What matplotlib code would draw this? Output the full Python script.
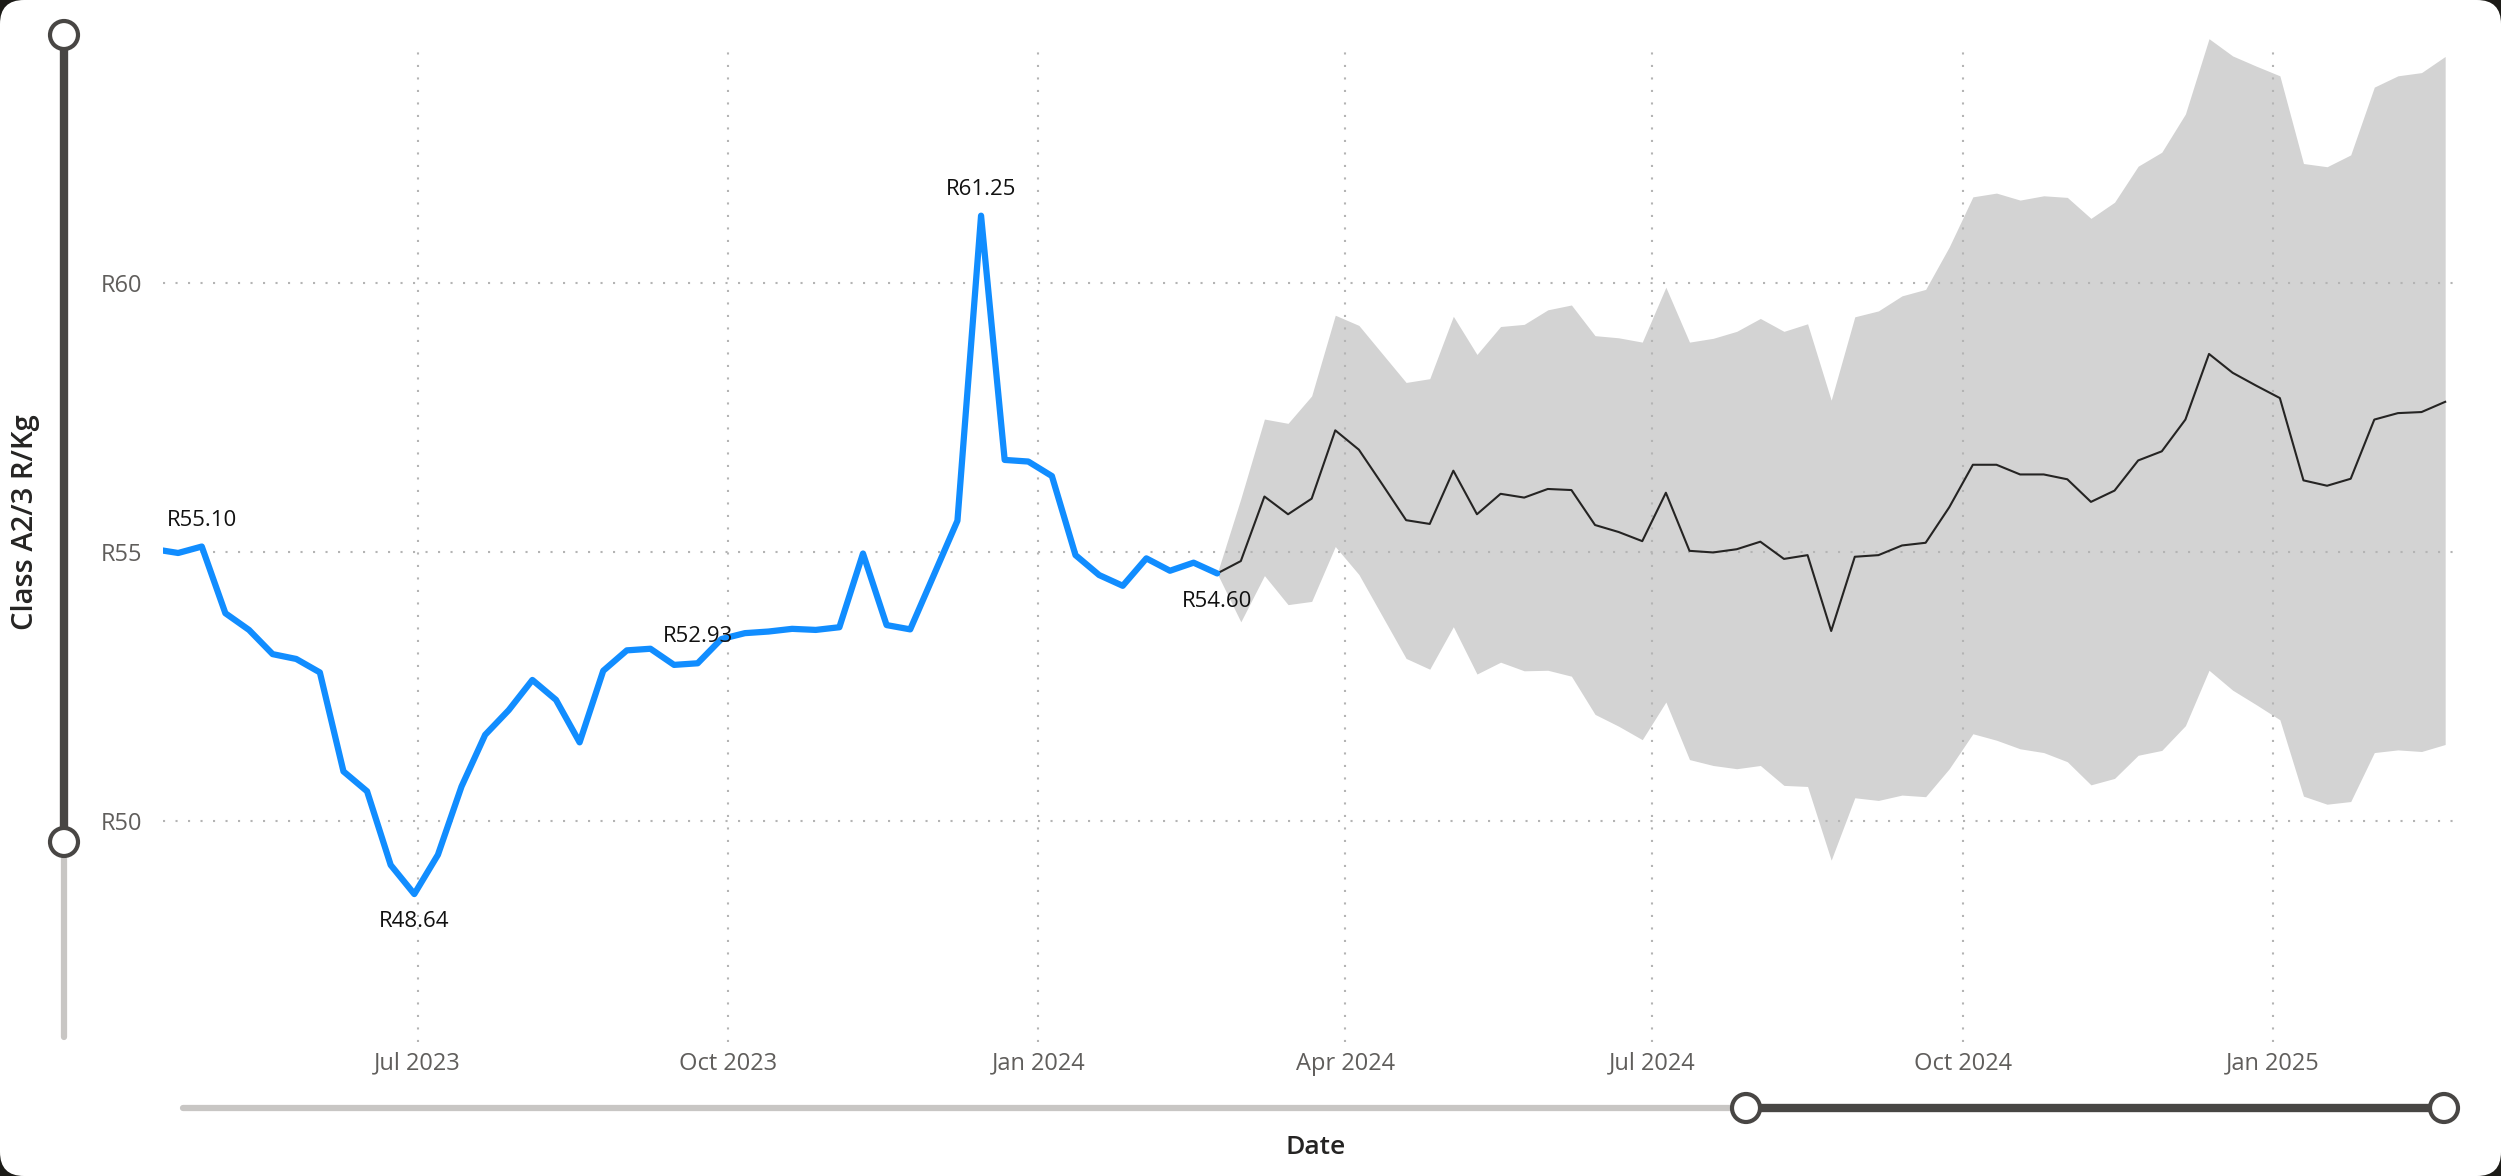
import pandas as pd
import matplotlib
matplotlib.use('Agg')
import matplotlib.pyplot as plt
from matplotlib.patches import FancyBboxPatch, Circle

plt.rcParams['font.family'] = ['Open Sans', 'DejaVu Sans']

# weekly actual prices (R/Kg)
actual_start = '2023-04-14'
actual_values = [55.05, 54.98, 55.10, 53.86, 53.55, 53.10, 53.01, 52.76, 50.92, 50.55,
                 49.18, 48.64, 49.37, 50.64, 51.60, 52.06, 52.62, 52.25, 51.46, 52.79,
                 53.17, 53.20, 52.90, 52.93, 53.38, 53.49, 53.52, 53.57, 53.55, 53.60,
                 54.97, 53.64, 53.56, 54.57, 55.58, 61.25, 56.71, 56.68, 56.41, 54.94,
                 54.57, 54.37, 54.88, 54.65, 54.80, 54.60]
labelled_idx = [2, 11, 23, 35, 45]

# weekly forecast, first value is the last actual point
forecast_start = '2024-02-23'
forecast_mean = [54.60, 54.83, 56.03, 55.70, 55.99, 57.26, 56.90, 56.25, 55.59, 55.52,
                 56.51, 55.70, 56.08, 56.01, 56.17, 56.15, 55.50, 55.37, 55.20, 56.10,
                 55.02, 54.99, 55.05, 55.19, 54.87, 54.94, 53.53, 54.91, 54.94, 55.12,
                 55.17, 55.83, 56.62, 56.62, 56.44, 56.44, 56.35, 55.93, 56.14, 56.70,
                 56.87, 57.46, 58.68, 58.33, 58.09, 57.86, 56.33, 56.23, 56.36, 57.46,
                 57.58, 57.60, 57.79]
forecast_upper = [54.60, 55.99, 57.47, 57.39, 57.90, 59.40, 59.21, 58.68, 58.15, 58.22,
                  59.38, 58.67, 59.19, 59.23, 59.50, 59.59, 59.02, 58.98, 58.90, 59.92,
                  58.90, 58.97, 59.10, 59.34, 59.10, 59.24, 57.82, 59.37, 59.48, 59.76,
                  59.88, 60.67, 61.60, 61.67, 61.54, 61.62, 61.59, 61.20, 61.50, 62.17,
                  62.43, 63.14, 64.54, 64.22, 64.03, 63.85, 62.22, 62.16, 62.38, 63.64,
                  63.85, 63.91, 64.21]
forecast_lower = [54.60, 53.70, 54.56, 54.02, 54.08, 55.10, 54.58, 53.80, 53.02, 52.82,
                  53.61, 52.73, 52.95, 52.79, 52.80, 52.69, 51.98, 51.76, 51.51, 52.21,
                  51.14, 51.03, 50.97, 51.03, 50.66, 50.64, 49.27, 50.43, 50.38, 50.48,
                  50.45, 50.97, 51.62, 51.50, 51.34, 51.27, 51.10, 50.67, 50.79, 51.22,
                  51.31, 51.77, 52.80, 52.43, 52.16, 51.88, 50.46, 50.31, 50.36, 51.27,
                  51.32, 51.29, 51.42]

x_ticks = ['2023-07-01', '2023-10-01', '2024-01-01', '2024-04-01',
           '2024-07-01', '2024-10-01', '2025-01-01']
x_tick_labels = ['Jul 2023', 'Oct 2023', 'Jan 2024', 'Apr 2024',
                 'Jul 2024', 'Oct 2024', 'Jan 2025']
y_ticks = [50, 55, 60]
y_tick_labels = ['R50', 'R55', 'R60']

actual_dates = pd.date_range(actual_start, periods=len(actual_values), freq='7D')
forecast_dates = pd.date_range(forecast_start, periods=len(forecast_mean), freq='7D')

W, H = 2501, 1176
fig = plt.figure(figsize=(W / 100, H / 100), dpi=100, facecolor='#1c1b17')

# card background + sliders, in pixel coordinates
bg = fig.add_axes([0, 0, 1, 1])
bg.set_xlim(0, W)
bg.set_ylim(H, 0)
bg.axis('off')
bg.add_patch(FancyBboxPatch((0, 0), W, H, boxstyle='round,pad=0,rounding_size=24',
                            fc='white', ec='none'))

dark, light = '#484644', '#C8C6C4'
# y slider
bg.plot([64, 64], [842, 1037], color=light, lw=4.5, solid_capstyle='round')
bg.plot([64, 64], [35, 842], color=dark, lw=6, solid_capstyle='butt')
# x slider
bg.plot([183, 1746], [1108, 1108], color=light, lw=4.5, solid_capstyle='round')
bg.plot([1746, 2444], [1108, 1108], color=dark, lw=6, solid_capstyle='butt')
for cx, cy in [(64, 35), (64, 842), (1746, 1108), (2444, 1108)]:
    bg.add_patch(Circle((cx, cy), 14, fc='white', ec=dark, lw=3, zorder=5))

# main chart
ax = fig.add_axes([162.7 / W, 1 - 1042 / H, (2455 - 162.7) / W, (1042 - 43) / H])
ax.set_facecolor('none')

ax.fill_between(forecast_dates, forecast_lower, forecast_upper, color='#D3D3D3',
                lw=0, zorder=1, clip_on=False)
ax.plot(forecast_dates, forecast_mean, color='#252423', lw=1.5, zorder=2)
ax.plot(actual_dates, actual_values, color='#118DFF', lw=4.5, zorder=3,
        solid_joinstyle='round', solid_capstyle='round')

for i in labelled_idx:
    above = i in (2, 23, 35)
    ax.annotate('R%.2f' % actual_values[i], (actual_dates[i], actual_values[i]),
                xytext=(0, 19 if above else -20), textcoords='offset points',
                ha='center', va='center', fontsize=16, color='#111111', zorder=4)

ax.set_xlim(pd.Timestamp('2023-04-16 10:00'), pd.Timestamp('2025-02-23 22:00'))
ax.set_ylim(45.89, 64.46)

ax.set_xticks(pd.to_datetime(x_ticks))
ax.set_xticklabels(x_tick_labels)
ax.set_yticks(y_ticks)
ax.set_yticklabels(y_tick_labels)
ax.tick_params(axis='both', length=0, labelsize=17, labelcolor='#605E5C')
ax.tick_params(axis='y', pad=15)
ax.tick_params(axis='x', pad=7)

ax.set_axisbelow('line')
ax.grid(True, linestyle=(0, (1, 5)), color='#B4B4B4', lw=1.5)
for s in ax.spines.values():
    s.set_visible(False)

fig.text(26 / W, 1 - 522 / H, 'Class A2/3 R/Kg', rotation=90, ha='center', va='center',
         fontsize=21, fontweight='semibold', color='#252423')
fig.text(1316 / W, 1 - 1147 / H, 'Date', ha='center', va='center',
         fontsize=19, fontweight='semibold', color='#252423')

fig.savefig('out.png', dpi=100, facecolor=fig.get_facecolor())
